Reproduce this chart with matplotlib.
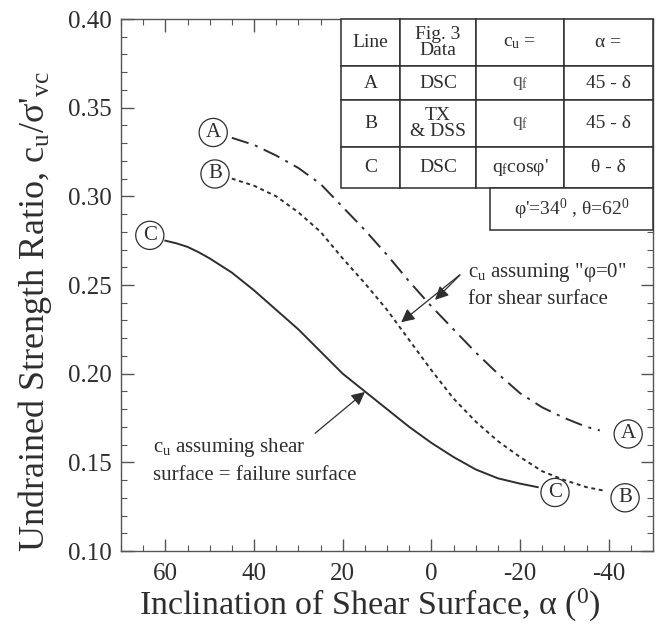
import matplotlib
matplotlib.use('Agg')
import matplotlib.pyplot as plt
from matplotlib.ticker import MultipleLocator, FormatStrFormatter

plt.rcParams['font.family'] = ['Liberation Serif', 'DejaVu Serif']
plt.rcParams['mathtext.default'] = 'regular'
plt.rcParams['axes.unicode_minus'] = False

INK = '#2e2e2e'

# ---- data ----
alpha_A = [45, 40, 35, 30, 25, 20, 15, 10, 5, 0, -5, -10, -15, -20, -25, -30, -35, -38]
ratio_A = [0.333, 0.329, 0.323, 0.316, 0.307, 0.294, 0.281, 0.267, 0.252, 0.238,
           0.225, 0.212, 0.200, 0.189, 0.181, 0.175, 0.170, 0.168]

alpha_B = [45, 40, 35, 30, 25, 20, 15, 10, 5, 0, -5, -10, -15, -20, -25, -30, -35, -39]
ratio_B = [0.310, 0.306, 0.300, 0.291, 0.280, 0.265, 0.251, 0.236, 0.219, 0.202,
           0.186, 0.173, 0.162, 0.153, 0.145, 0.140, 0.136, 0.134]

alpha_C = [60, 57.5, 55, 52.5, 50, 47.5, 45, 42.5, 40, 35, 30, 25, 20, 15, 10, 5, 0,
           -5, -10, -15, -20, -24]
ratio_C = [0.275, 0.2735, 0.2715, 0.2685, 0.265, 0.261, 0.257, 0.252, 0.247, 0.236,
           0.225, 0.2125, 0.200, 0.190, 0.180, 0.170, 0.161, 0.153, 0.146, 0.141,
           0.138, 0.136]

label_names = ['A', 'B', 'C', 'A', 'B', 'C']
label_alpha = [49.2, 48.8, 63.5, -44.4, -43.7, -27.9]
label_ratio = [0.336, 0.3126, 0.278, 0.166, 0.130, 0.133]

x_ticks = [60, 40, 20, 0, -20, -40]
y_ticks = [0.10, 0.15, 0.20, 0.25, 0.30, 0.35, 0.40]

table_header = ['Line', 'Fig. 3\nData', '$c_u$ =', 'α =']
table_rows = [['A', 'DSC', '$q_f$', '45 - δ'],
              ['B', 'TX\n& DSS', '$q_f$', '45 - δ'],
              ['C', 'DSC', "$q_f$cosφ'", 'θ - δ']]
table_note = "φ'=34$^0$ , θ=62$^0$"

# ---- figure ----
fig = plt.figure(figsize=(6.61, 6.27), dpi=100)
ax = fig.add_axes([121/661, 76/627, 532/661, 532/627])

ax.plot(alpha_A, ratio_A, color=INK, lw=1.4, dashes=(9, 3.5, 1.5, 3.5))
ax.plot(alpha_B, ratio_B, color=INK, lw=1.4, dashes=(2.0, 1.9))
ax.plot(alpha_C, ratio_C, color=INK, lw=1.4)

for n, a, r in zip(label_names, label_alpha, label_ratio):
    ax.text(a, r, n, ha='center', va='center', fontsize=15, color=INK, zorder=5,
            bbox=dict(boxstyle='circle,pad=0.22', fc='white', ec=INK, lw=0.9))

ax.set_xlim(70, -50)
ax.set_ylim(0.10, 0.40)
ax.set_xticks(x_ticks)
ax.set_yticks(y_ticks)
ax.xaxis.set_minor_locator(MultipleLocator(5))
ax.yaxis.set_minor_locator(MultipleLocator(0.01))
ax.yaxis.set_major_formatter(FormatStrFormatter('%.2f'))
ax.tick_params(which='both', direction='in', top=True, right=True, color='#555555',
               labelcolor=INK, labelsize=18)
ax.tick_params(which='major', length=9, width=1)
ax.tick_params(which='minor', length=4.5, width=0.8)
ax.tick_params(axis='x', pad=9)
ax.tick_params(axis='y', pad=7)
for s in ax.spines.values():
    s.set_color('#555555')
    s.set_linewidth(1)

ax.set_xlabel('Inclination of Shear Surface, α ($^0$)', fontsize=24.5, color=INK, va='center')
ax.xaxis.set_label_coords(0.468, -0.103)
ax.set_ylabel("Undrained Strength Ratio, $c_u$/σ'$_{vc}$", fontsize=26, color=INK)
ax.yaxis.set_label_coords(-0.125, 0.45)

# annotations
ax.annotate('', xy=(14.5, 0.1907), xytext=(26.7, 0.1654),
            arrowprops=dict(arrowstyle='-|>', color=INK, lw=0.9, mutation_scale=20))
ax.text(62.8, 0.151, 'c$_u$ assuming shear\nsurface = failure surface', ha='left', va='center',
        fontsize=15, color=INK, linespacing=1.45)
ax.annotate('', xy=(7.3, 0.228), xytext=(-6.9, 0.2567),
            arrowprops=dict(arrowstyle='-|>', color=INK, lw=0.9, mutation_scale=20))
ax.annotate('', xy=(-0.4, 0.2405), xytext=(-6.9, 0.2567),
            arrowprops=dict(arrowstyle='-|>', color=INK, lw=0.9, mutation_scale=20))
ax.text(-8.3, 0.250, 'c$_u$ assuming "φ=0"\nfor shear surface', ha='left', va='center',
        fontsize=15, color=INK, linespacing=1.45)

# table
col_w = [59, 76, 88, 89]
tot = float(sum(col_w))
tbl = ax.table(cellText=table_rows, colLabels=table_header,
               colWidths=[w / tot for w in col_w], cellLoc='center',
               bbox=[(341 - 121) / 532, (551 - 188) / 532, (653 - 341) / 532, (188 - 19) / 532])
tbl.auto_set_font_size(False)
tbl.set_fontsize(14)
row_h = [47, 34, 47, 41]
for (r, c), cell in tbl.get_celld().items():
    cell.set_height(row_h[r] / 169.0)
    cell.set_edgecolor(INK)
    cell.set_linewidth(1.1)
    cell.get_text().set_color('#555555' if (r > 0 and c == 2 and r < 3) else INK)
    cell.get_text().set_linespacing(0.85)
tbl.set_zorder(6)

note = ax.table(cellText=[[table_note]], cellLoc='center',
                bbox=[(490 - 121) / 532, (551 - 230) / 532, (653 - 490) / 532, (230 - 188) / 532])
note.auto_set_font_size(False)
note.set_fontsize(14)
for cell in note.get_celld().values():
    cell.set_edgecolor(INK)
    cell.set_linewidth(1.1)
    cell.get_text().set_color(INK)
note.set_zorder(6)

fig.savefig('out.png', dpi=100, facecolor='white')
